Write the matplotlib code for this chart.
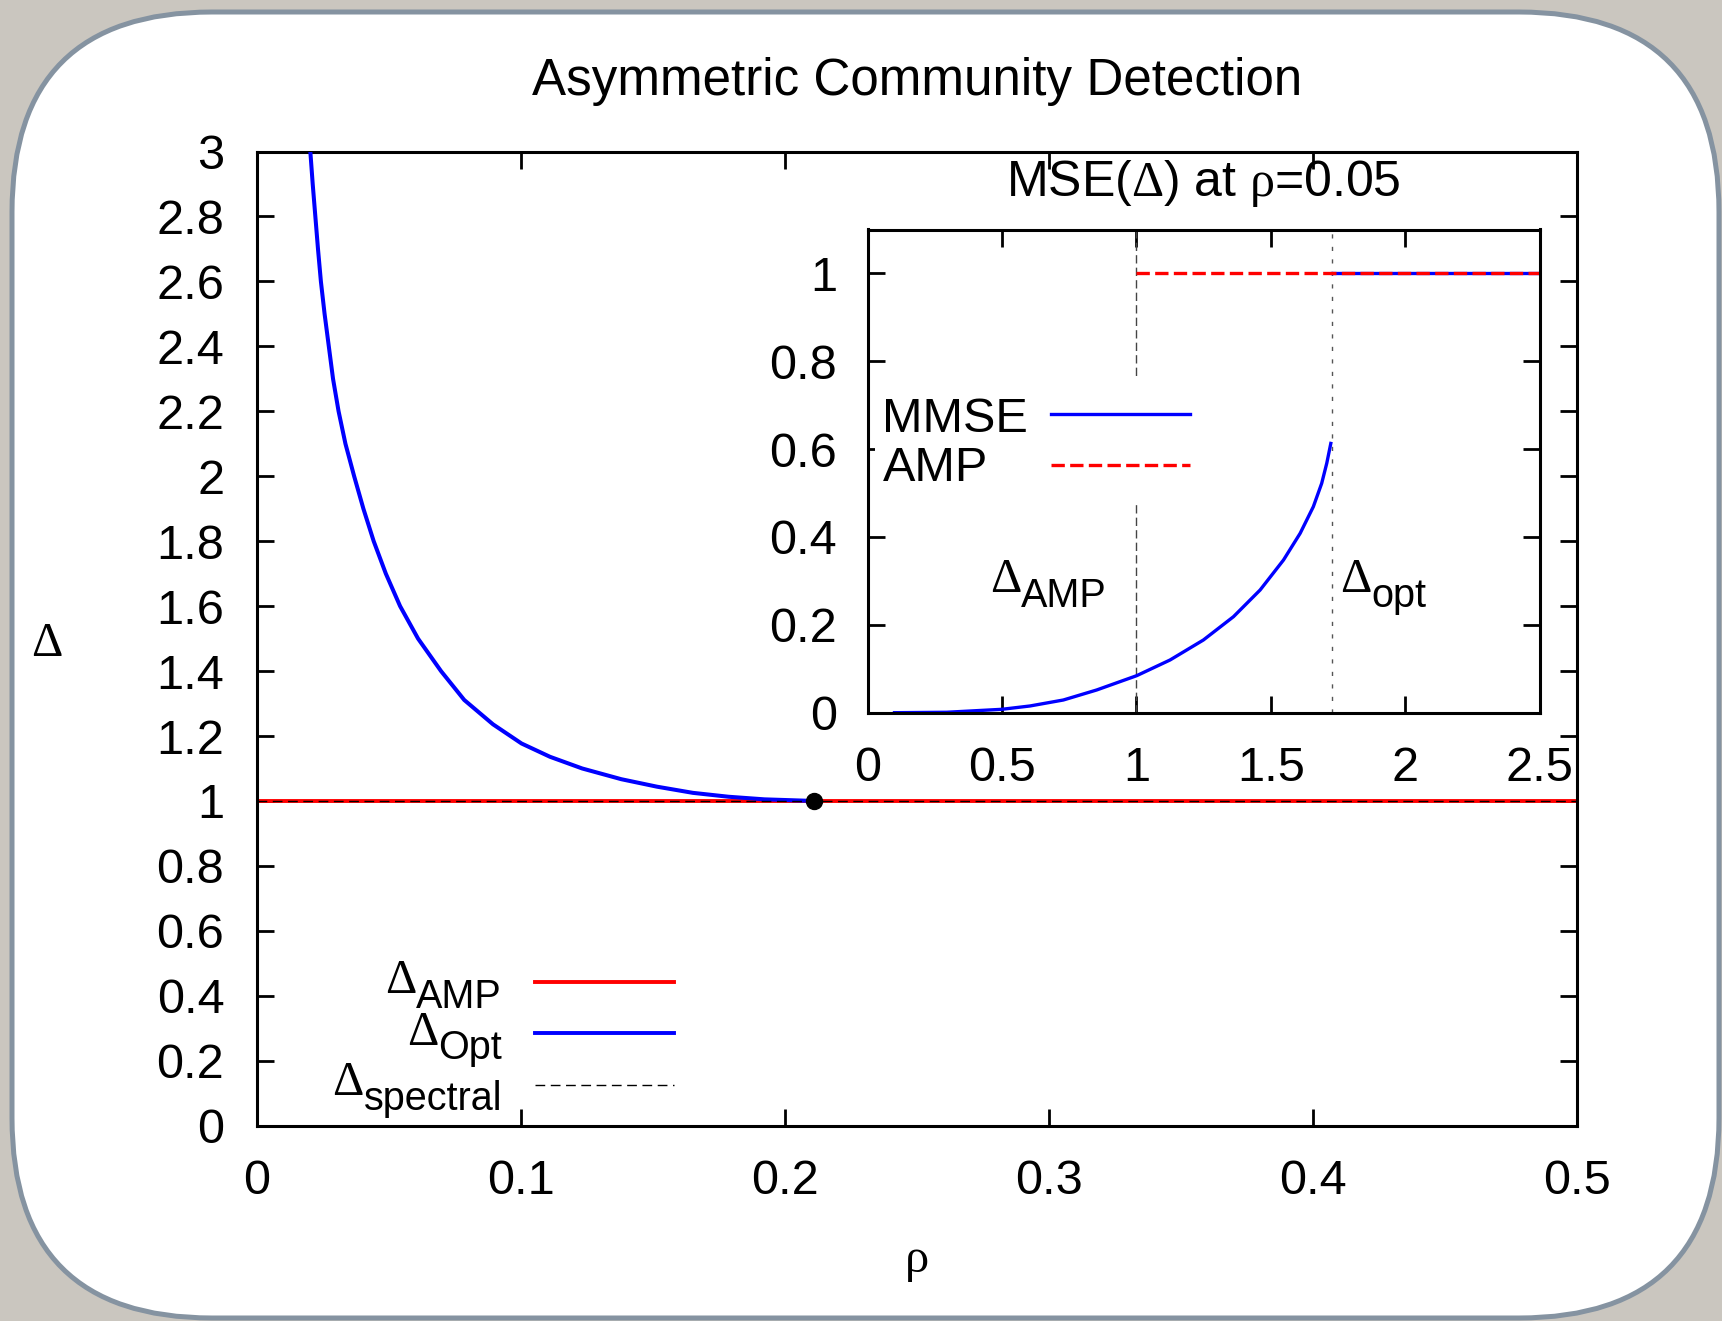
import matplotlib.pyplot as plt
import matplotlib.transforms as mtransforms
from matplotlib.patches import FancyBboxPatch, Rectangle
from matplotlib.lines import Line2D
from matplotlib.ticker import MultipleLocator, FuncFormatter

plt.rcParams['font.family'] = ['Liberation Sans', 'DejaVu Sans']
plt.rcParams['mathtext.fontset'] = 'custom'
plt.rcParams['mathtext.rm'] = 'Liberation Serif'
plt.rcParams['mathtext.it'] = 'Liberation Serif'
plt.rcParams['mathtext.sf'] = 'Liberation Sans'

# --- main panel: thresholds vs rho ---
rho_line = [0.0, 0.5]
delta_amp = [1.0, 1.0]
delta_spectral = [1.0, 1.0]
rho_opt = [0.0202, 0.0211, 0.0221, 0.0231, 0.0242, 0.0256, 0.0272, 0.0288,
           0.0309, 0.0335, 0.0368, 0.0403, 0.0442, 0.0488, 0.0542, 0.0610,
           0.0697, 0.0785, 0.0894, 0.1002, 0.111, 0.1232, 0.138, 0.1515,
           0.1651, 0.1786, 0.1922, 0.2111]
delta_opt = [3.0, 2.9, 2.8, 2.7, 2.6, 2.5, 2.4, 2.3,
             2.2, 2.1, 2.0, 1.9, 1.8, 1.7, 1.6, 1.5,
             1.4, 1.311, 1.236, 1.177, 1.136, 1.1, 1.067, 1.044,
             1.025, 1.013, 1.005, 1.0]
rho_tri, delta_tri = 0.211, 1.0

# --- inset: MSE(Delta) at rho = 0.05 ---
d_mmse = [0.1, 0.294, 0.499, 0.604, 0.728, 0.852, 1.001, 1.125, 1.249,
          1.361, 1.460, 1.547, 1.609, 1.658, 1.689, 1.708, 1.723]
mmse = [0.0, 0.001, 0.0077, 0.0153, 0.0289, 0.0517, 0.0843, 0.120, 0.1655,
        0.2186, 0.2793, 0.3476, 0.4084, 0.469, 0.522, 0.568, 0.613]
d_mmse_hi = [1.728, 2.5]
mmse_hi = [1.0, 1.0]
d_amp = [1.0, 2.5]
mse_amp = [1.0, 1.0]
d_amp_thr = 1.0
d_opt_thr = 1.728

W, H = 1722, 1321
fig = plt.figure(figsize=(W / 100, H / 100), dpi=100, facecolor='#cac6bf')
# pixel coords, origin top-left
px = mtransforms.Affine2D().scale(1 / W, -1 / H).translate(0, 1) + fig.transFigure

# rounded white slide panel
bg = fig.add_axes([0, 0, 1, 1], zorder=-10)
bg.set_xlim(0, W)
bg.set_ylim(H, 0)
bg.axis('off')
bg.add_patch(FancyBboxPatch((12, 12), W - 15, H - 15,
                            boxstyle='round,pad=0,rounding_size=200',
                            fc='white', ec='#8593a1', lw=3.6))

fmt = FuncFormatter(lambda v, p: f'{v:g}')

def style_axes(a, xpad, ypad):
    a.tick_params(direction='in', length=12, width=2, labelsize=35,
                  top=True, right=True)
    a.tick_params(axis='x', pad=xpad)
    a.tick_params(axis='y', pad=ypad)
    a.xaxis.set_major_formatter(fmt)
    a.yaxis.set_major_formatter(fmt)
    for s in a.spines.values():
        s.set_linewidth(2.2)

# main axes
ax = fig.add_axes([257 / W, 1 - 1125.7 / H, 1320 / W, 974.2 / H])
ax.plot(rho_opt, delta_opt, color='blue', lw=2.9, zorder=3)
ax.plot(rho_line, delta_amp, color='red', lw=2.8, zorder=2)
ax.plot(rho_line, delta_spectral, color='black', lw=1.0, dashes=(7, 4), zorder=4)
ax.plot(rho_tri, delta_tri, 'o', color='black', ms=11.5, zorder=5)
ax.set_xlim(0, 0.5)
ax.set_ylim(0, 3)
ax.xaxis.set_major_locator(MultipleLocator(0.1))
ax.yaxis.set_major_locator(MultipleLocator(0.2))
style_axes(ax, 24, 23.5)
ax.set_xlabel('ρ', family='Liberation Serif', size=35)
ax.xaxis.set_label_coords(0.5, -0.1502)
ax.xaxis.label.set_va('baseline')
ax.set_ylabel('Δ', family='Liberation Serif', size=35, rotation=0)
ax.yaxis.set_label_coords(-0.1593, 0.4821)
ax.yaxis.label.set_va('baseline')
ax.yaxis.label.set_ha('center')

fig.text(917, 94.5, 'Asymmetric Community Detection', transform=px,
         ha='center', va='baseline', size=36.8)

# main legend (labels left of the keys, right aligned)
main_keys = [('AMP', 'red', 2.8, None, 981.7, 993, 1008),
             ('Opt', 'blue', 2.8, None, 1033.3, 1045, 1059),
             ('spectral', 'black', 1.0, (7, 4), 1084.5, 1095, 1110)]
for sub, col, lw, dash, yk, yb, ys in main_keys:
    ln = Line2D([535, 674], [yk, yk], transform=px, color=col, lw=lw)
    if dash:
        ln.set_dashes(dash)
    fig.add_artist(ln)
    t = fig.text(502, ys, sub, transform=px, ha='right', va='baseline', size=28.5)
    ax.annotate('Δ', xy=(0, yb), xycoords=(t, px), ha='right', va='baseline',
                family='Liberation Serif', size=35, annotation_clip=False)

# inset
ax_in = fig.add_axes([867.6 / W, 1 - 712.7 / H, 672.1 / W, 483.2 / H])
ax_in.axvline(d_amp_thr, color='#444444', lw=1.0, dashes=(6, 3))
ax_in.axvline(d_opt_thr, color='#555555', lw=1.0, dashes=(3, 6))
ax_in.plot(d_mmse, mmse, color='blue', lw=2.4)
ax_in.plot(d_mmse_hi, mmse_hi, color='blue', lw=2.4)
ax_in.plot(d_amp, mse_amp, color='red', lw=2.4, dashes=(4, 1.6))
ax_in.set_xlim(0, 2.5)
ax_in.set_ylim(0, 1.1)
ax_in.xaxis.set_major_locator(MultipleLocator(0.5))
ax_in.yaxis.set_major_locator(MultipleLocator(0.2))
style_axes(ax_in, 24, 22)

fig.text(1203, 196, r'MSE($\Delta$) at $\rho$=0.05', transform=px,
         ha='center', va='baseline', size=36)

# inset legend: opaque box over the dashed threshold line
fig.add_artist(Rectangle((875, 380), 320, 122, transform=px, fc='white',
                         ec='none', zorder=1.5))
fig.text(882.5, 431.6, 'MMSE', transform=px, va='baseline', size=35)
fig.text(882.5, 481.4, 'AMP', transform=px, va='baseline', size=35)
fig.add_artist(Line2D([1051, 1190], [413.6, 413.6], transform=px,
                      color='blue', lw=2.4))
fig.add_artist(Line2D([1051, 1190], [465, 465], transform=px,
                      color='red', lw=2.4, dashes=(4, 1.6)))

# threshold labels inside the inset
for x0, sub in [(990, 'AMP'), (1340, 'opt')]:
    t = fig.text(x0, 592, 'Δ', transform=px, va='baseline',
                 family='Liberation Serif', size=35)
    ax_in.annotate(sub, xy=(1, 607), xycoords=(t, px), ha='left',
                   va='baseline', size=28.5, annotation_clip=False)

fig.savefig('out.png', dpi=100, facecolor=fig.get_facecolor())
